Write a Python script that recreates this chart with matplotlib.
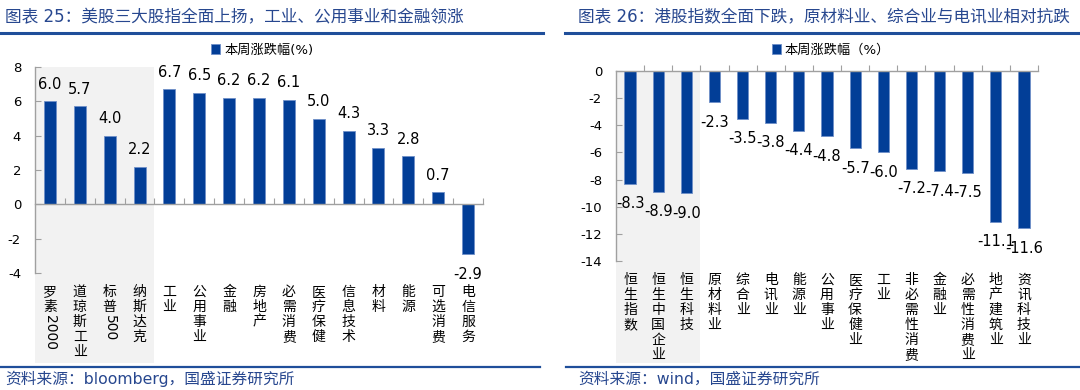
import matplotlib
matplotlib.use("Agg")
import matplotlib.pyplot as plt
import matplotlib.transforms as mtransforms
from matplotlib.patches import Rectangle
from matplotlib.lines import Line2D

plt.rcParams['font.family'] = ['DejaVu Sans', 'Noto Sans CJK SC']
plt.rcParams['axes.unicode_minus'] = False

# ---- data ----
us_cats = ['罗素2000', '道琼斯工业', '标普500', '纳斯达克', '工业', '公用事业', '金融',
           '房地产', '必需消费', '医疗保健', '信息技术', '材料', '能源', '可选消费', '电信服务']
us_vals = [6.0, 5.7, 4.0, 2.2, 6.7, 6.5, 6.2, 6.2, 6.1, 5.0, 4.3, 3.3, 2.8, 0.7, -2.9]

hk_cats = ['恒生指数', '恒生中国企业', '恒生科技', '原材料业', '综合业', '电讯业', '能源业',
           '公用事业', '医疗保健业', '工业', '非必需性消费', '金融业', '必需性消费业',
           '地产建筑业', '资讯科技业']
hk_vals = [-8.3, -8.9, -9.0, -2.3, -3.5, -3.8, -4.4, -4.8, -5.7, -6.0, -7.2, -7.4, -7.5,
           -11.1, -11.6]

BLUE = '#023E97'
TITLE_BLUE = '#27478F'
LINE_BLUE = '#1F4E9A'
GRAY_BG = '#F2F2F2'
SPINE = '#A0A0A0'

W, H = 1080, 390
fig = plt.figure(figsize=(10.8, 3.9), dpi=100)


def fx(px):
    return px / W


def fy(py):
    return 1 - py / H


def vertical_label(ax, x, text, top_pts=8.5, step=10.8):
    """Stack CJK characters vertically; digit runs are rotated."""
    trans = mtransforms.blended_transform_factory(ax.transData, ax.transAxes)
    off = top_pts
    i = 0
    while i < len(text):
        ch = text[i]
        if ch.isdigit():
            j = i
            while j < len(text) and text[j].isdigit():
                j += 1
            ax.annotate(text[i:j], xy=(x, 0), xycoords=trans, xytext=(0, -off),
                        textcoords='offset points', ha='center', va='top',
                        rotation=-90, fontsize=10, annotation_clip=False)
            off += (j - i) * 6.2
            i = j
        else:
            ax.annotate(ch, xy=(x, 0), xycoords=trans, xytext=(0, -off),
                        textcoords='offset points', ha='center', va='top',
                        fontsize=10, family=['Noto Sans CJK SC'], annotation_clip=False)
            off += step
            i += 1


def panel(ax, cats, vals, ylim, yticks, shade_n, shade_top, legend_text, legend_x):
    n = len(cats)
    xs = list(range(n))
    ax.set_facecolor('none')
    bars = ax.bar(xs, vals, width=0.4, color=BLUE, edgecolor='#6F8FC8', linewidth=0.6,
                  zorder=2, label=legend_text)
    for x, v in zip(xs, vals):
        if v >= 0:
            ax.annotate(f'{v:.1f}', xy=(x, v), xytext=(0, 7), textcoords='offset points',
                        ha='center', va='bottom', fontsize=10.5)
        else:
            ax.annotate(f'{v:.1f}', xy=(x, v), xytext=(0, -9), textcoords='offset points',
                        ha='center', va='top', fontsize=10.5)
    ax.set_xlim(-0.5, n - 0.5)
    ax.set_ylim(*ylim)
    ax.set_yticks(yticks)
    ax.set_yticklabels([str(t) for t in yticks])
    ax.set_xticks([i + 0.5 for i in range(n)])
    ax.set_xticklabels([])
    ax.spines['top'].set_visible(False)
    ax.spines['right'].set_visible(False)
    ax.spines['bottom'].set_position(('data', 0))
    for s in ('left', 'bottom'):
        ax.spines[s].set_color(SPINE)
        ax.spines[s].set_linewidth(1.0)
    ax.tick_params(axis='x', direction='in', length=4, color=SPINE)
    ax.tick_params(axis='y', direction='in', length=4, color=SPINE, labelsize=9.5, pad=10)
    for x, c in zip(xs, cats):
        vertical_label(ax, x, c)
    # shaded index block
    trans = mtransforms.blended_transform_factory(ax.transData, fig.transFigure)
    ax.add_patch(Rectangle((-0.5, fy(363)), shade_n, shade_top - fy(363), transform=trans,
                           facecolor=GRAY_BG, edgecolor='none', zorder=0, clip_on=False))
    ax.legend(handles=[bars], labels=[legend_text], loc='center',
              bbox_to_anchor=(fx(legend_x), fy(50)), bbox_transform=fig.transFigure,
              frameon=False, handlelength=0.7, handleheight=0.7, handletextpad=0.3,
              fontsize=9.5, borderaxespad=0)


ax1 = fig.add_axes([fx(35), fy(273), fx(483) - fx(35), fy(67) - fy(273)])
panel(ax1, us_cats, us_vals, (-4, 8), list(range(-4, 9, 2)), 4, fy(67),
      '本周涨跌幅(%)', 262)

ax2 = fig.add_axes([fx(616), fy(261), fx(1038) - fx(616), fy(71) - fy(261)])
panel(ax2, hk_cats, hk_vals, (-14, 0), list(range(-14, 1, 2)), 3, fy(71),
      '本周涨跌幅（%）', 831)

# titles, rules and sources
fig.text(fx(5), fy(17), '图表 25：美股三大股指全面上扬，工业、公用事业和金融领涨',
         color=TITLE_BLUE, fontsize=12, va='center', ha='left')
fig.text(fx(578), fy(17), '图表 26：港股指数全面下跌，原材料业、综合业与电讯业相对抗跌',
         color=TITLE_BLUE, fontsize=12, va='center', ha='left')
fig.add_artist(Line2D([0, fx(543)], [fy(33), fy(33)], color=LINE_BLUE, lw=2.2))
fig.add_artist(Line2D([fx(565), 1], [fy(33), fy(33)], color=LINE_BLUE, lw=2.2))
fig.add_artist(Line2D([0, fx(540)], [fy(367), fy(367)], color=LINE_BLUE, lw=1.6))
fig.add_artist(Line2D([fx(566), 1], [fy(367), fy(367)], color=LINE_BLUE, lw=1.6))
fig.text(fx(5), fy(379), '资料来源：bloomberg，国盛证券研究所', color=TITLE_BLUE,
         fontsize=11.3, va='center', ha='left')
fig.text(fx(578), fy(379), '资料来源：wind，国盛证券研究所', color=TITLE_BLUE,
         fontsize=11.3, va='center', ha='left')

fig.savefig('out.png', dpi=100)
